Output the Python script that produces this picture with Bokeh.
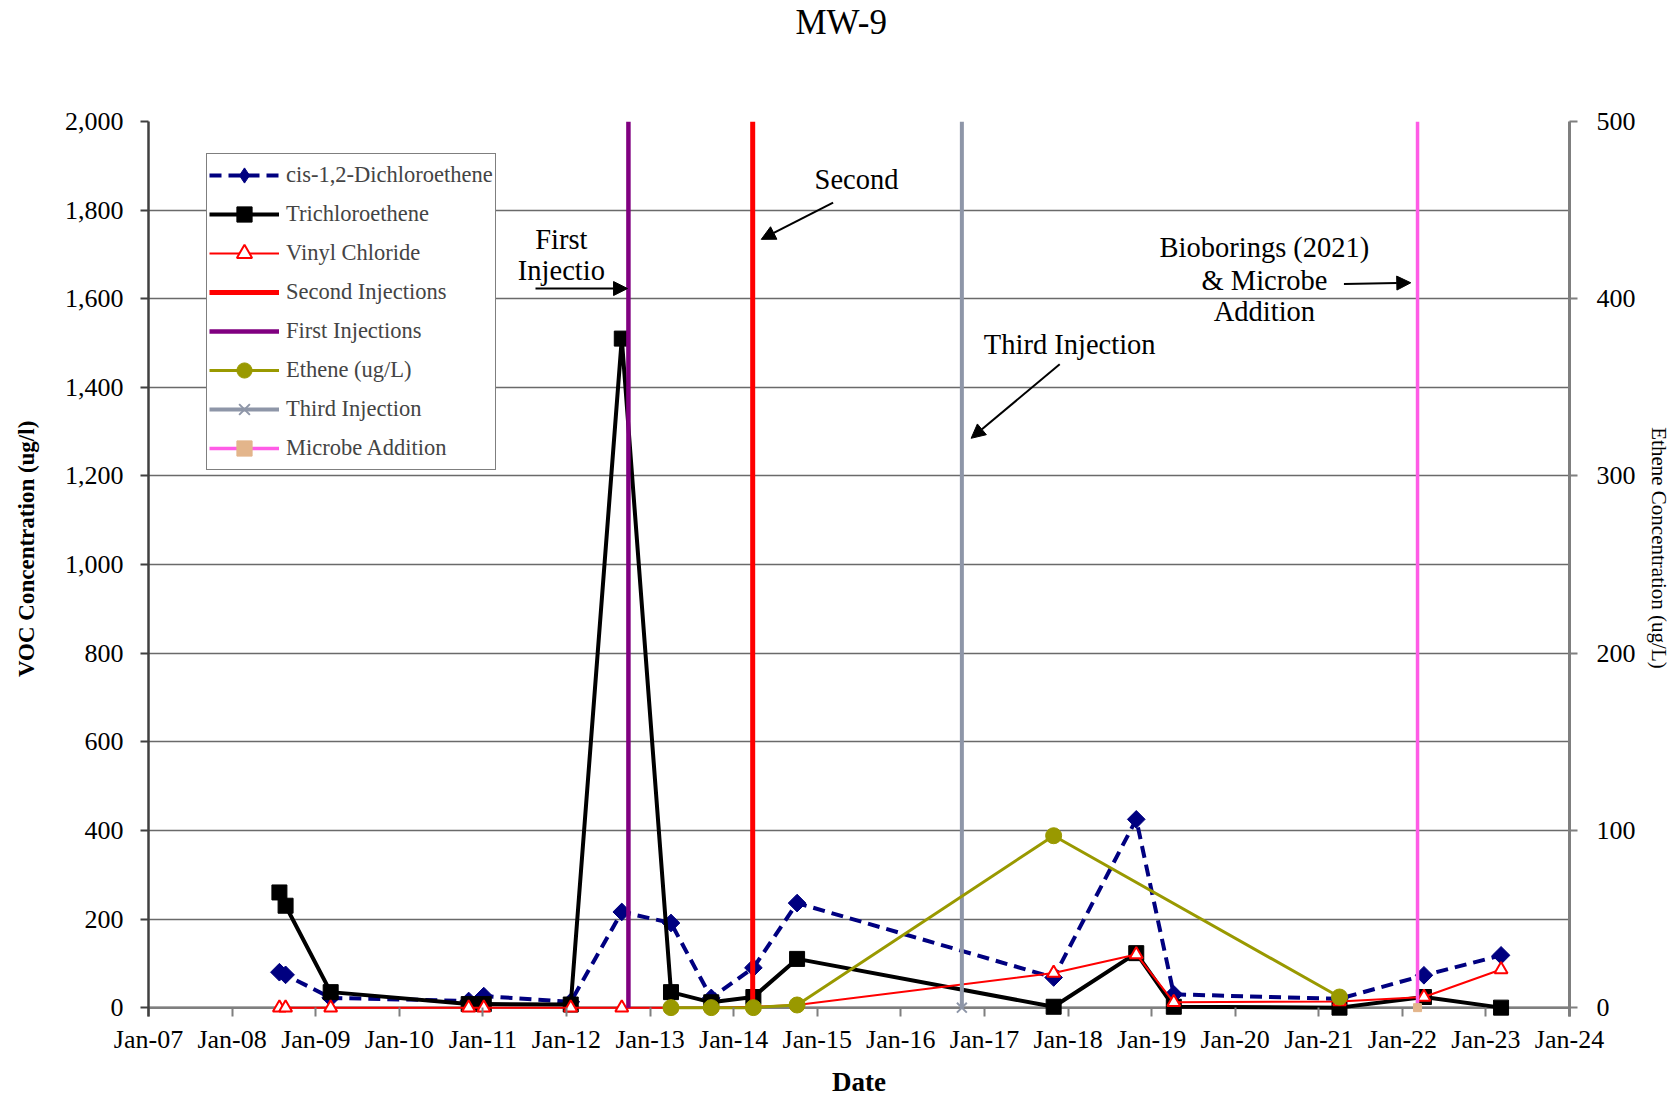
import math
import pandas as pd
from bokeh.plotting import figure
from bokeh.models import (ColumnDataSource, Range1d, LinearAxis, FixedTicker, NumeralTickFormatter,
                          DatetimeTickFormatter, Legend, LegendItem, Label, Arrow, NormalHead, Title, Span)
from bokeh.embed import file_html
from bokeh.resources import INLINE

# ---------------- data ----------------
sample_dates = ["2008-07-26", "2008-08-22", "2009-03-07", "2010-10-31", "2011-01-05", "2012-01-20",
                "2012-08-30", "2013-04-02", "2013-09-25", "2014-03-28", "2014-10-05", "2017-10-30",
                "2018-10-26", "2019-04-08", "2021-04-01", "2022-04-05", "2023-03-08"]
cis_dce = [80, 74, 22, 15, 26, 13, 216, 191, 22, 90, 236, 68, 425, 30, 20, 73, 118]
tce = [260, 230, 35, 8, 8, 7, 1510, 35, 12, 24, 110, 2, 123, 2, 0, 24, 0]
vinyl_chloride = [0, 0, 0, 0, 0, 0, 0, 0, 0, 2, 6, 78, 120, 12, 14, 24, 86]

ethene_dates = ["2013-04-02", "2013-09-25", "2014-03-28", "2014-10-05", "2017-10-30", "2021-04-01"]
ethene = [0, 0, 0, 1.5, 97, 6]

first_injection_date = "2012-09-28"
second_injection_date = "2014-03-25"
third_injection_date = "2016-09-24"
microbe_addition_date = "2022-03-08"
event_span = [0, 2000]

year_ticks = list(range(2007, 2025))
voc_ticks = list(range(0, 2001, 200))
ethene_ticks = list(range(0, 501, 100))

FONT = "Liberation Serif"
NBSP = "\u00a0"


def ms(s):
    return pd.Timestamp(s).value / 1e6


def dy(year_float):
    # decimal year -> epoch ms (for annotation placement)
    y = int(year_float)
    start = pd.Timestamp(f"{y}-01-01")
    end = pd.Timestamp(f"{y + 1}-01-01")
    return (start + (end - start) * (year_float - y)).value / 1e6


x_samples = pd.to_datetime(sample_dates)
x_eth = pd.to_datetime(ethene_dates)

src = ColumnDataSource(dict(x=x_samples, dce=cis_dce, tce=tce, vc=vinyl_chloride))
src_eth = ColumnDataSource(dict(x=x_eth, eth=ethene))

p = figure(width=1674, height=1100, x_axis_type="datetime", output_backend="svg",
           toolbar_location=None,
           x_range=Range1d(pd.Timestamp("2007-01-01").to_pydatetime(),
                           pd.Timestamp("2024-01-01").to_pydatetime()),
           y_range=Range1d(-20, 2000),
           min_border_left=148, min_border_right=105, min_border_top=121, min_border_bottom=84,
           title=None)
p.extra_y_ranges = {"eth": Range1d(-5, 500)}
p.outline_line_color = None
p.background_fill_color = "white"

# title (spacer first so the real title sits at the top edge)
p.add_layout(Title(text=" ", text_font_size="62px", text_font=FONT), "above")
p.add_layout(Title(text="MW-9", align="left", offset=647, standoff=0, text_font=FONT,
                   text_font_size="35px", text_font_style="normal", text_color="black"), "above")

# axes
ax_col = "#7f7f7f"
p.xaxis.ticker = FixedTicker(ticks=[ms(f"{y}-01-01") for y in year_ticks])
p.xaxis.formatter = DatetimeTickFormatter(years="%b-%y", months="%b-%y", days="%b-%y",
                                          hours="%b-%y", minutes="%b-%y")
p.xaxis.axis_label = "Date"
p.xaxis.axis_label_text_font_style = "bold"
p.xaxis.axis_label_text_font_size = "27px"
p.xaxis.axis_label_standoff = 10
p.xaxis.major_label_standoff = 8

p.yaxis.ticker = FixedTicker(ticks=voc_ticks)
p.yaxis.formatter = NumeralTickFormatter(format="0,0")
p.yaxis.axis_label = NBSP * 7 + "VOC Concentration (ug/l)"
p.yaxis.axis_label_text_font_style = "bold"
p.yaxis.axis_label_text_font_size = "23px"
p.yaxis.axis_label_standoff = 23
p.yaxis.major_label_standoff = 17

right = LinearAxis(y_range_name="eth", ticker=FixedTicker(ticks=ethene_ticks),
                   axis_label="Ethene Concentration (ug/L)" + NBSP * 8)
right.axis_label_text_font_style = "normal"
right.axis_label_text_font_size = "21px"
right.axis_label_standoff = 8
right.major_label_standoff = 19
p.add_layout(right, "right")

for ax in [p.xaxis[0], p.yaxis[0], right]:
    ax.axis_line_color = ax_col
    ax.axis_line_width = 2.5
    ax.major_tick_line_color = ax_col
    ax.major_tick_line_width = 2
    ax.major_tick_out = 8
    ax.major_tick_in = 0
    ax.minor_tick_line_color = None
    ax.major_label_text_font = FONT
    ax.major_label_text_font_size = "26px"
    ax.major_label_text_color = "black"
    ax.axis_label_text_font = FONT
    ax.axis_label_text_color = "black"
p.yaxis[0].axis_line_color = "#404040"
p.yaxis[0].major_tick_line_color = "#404040"
right.axis_line_width = 3
# the date axis hangs its ticks from the zero line
p.xaxis.axis_line_color = None
p.xaxis.major_tick_out = 0
p.xaxis.major_tick_in = 9

p.xgrid.visible = False
p.ygrid.grid_line_color = "#6a6a6a"
p.ygrid.grid_line_width = 1.3
p.add_layout(Span(location=0, dimension="width", line_color=ax_col, line_width=2.5, level="underlay"))

# ---------------- series ----------------
dce_line = p.line("x", "dce", source=src, line_color="#000080", line_width=4, line_dash="12 7")
dce_key = p.scatter("x", "dce", source=src, marker="diamond", size=14,
                    fill_color="#000080", line_color="#000080")
dce_pts = p.scatter("x", "dce", source=src, marker="square", angle=math.pi / 4, size=12.5,
                    fill_color="#000080", line_color="#000080")

tce_line = p.line("x", "tce", source=src, line_color="black", line_width=4)
tce_pts = p.scatter("x", "tce", source=src, marker="square", size=15,
                    fill_color="black", line_color="black")

vc_line = p.line("x", "vc", source=src, line_color="#ff0000", line_width=2)
vc_pts = p.scatter("x", "vc", source=src, marker="triangle", size=13, fill_color="white",
                   line_color="#ff0000", line_width=2)

second = p.line([pd.Timestamp(second_injection_date)] * 2, event_span, line_color="#ff0000", line_width=5)
first = p.line([pd.Timestamp(first_injection_date)] * 2, event_span, line_color="#800080", line_width=4.5)
third = p.line([pd.Timestamp(third_injection_date)] * 2, event_span, line_color="#8e96a8", line_width=4)
third_pt = p.scatter([pd.Timestamp(third_injection_date)], [event_span[0]], marker="x", size=14,
                     line_color="#8e96a8", line_width=2)
microbe = p.line([pd.Timestamp(microbe_addition_date)] * 2, event_span, line_color="#ff5ce6", line_width=3.5)
microbe_pt = p.scatter([pd.Timestamp(microbe_addition_date)], [event_span[0]], marker="square", size=8,
                       fill_color="#e3b58b", line_color="#e3b58b")

eth_line = p.line("x", "eth", source=src_eth, y_range_name="eth", line_color="#999900", line_width=3)
eth_pts = p.scatter("x", "eth", source=src_eth, y_range_name="eth", marker="circle", size=16,
                    fill_color="#999900", line_color="#999900")

legend = Legend(items=[
    LegendItem(label="cis-1,2-Dichloroethene", renderers=[dce_line, dce_key]),
    LegendItem(label="Trichloroethene", renderers=[tce_line, tce_pts]),
    LegendItem(label="Vinyl Chloride", renderers=[vc_line, vc_pts]),
    LegendItem(label="Second Injections", renderers=[second]),
    LegendItem(label="First Injections", renderers=[first]),
    LegendItem(label="Ethene (ug/L)", renderers=[eth_line, eth_pts]),
    LegendItem(label="Third Injection", renderers=[third, third_pt]),
    LegendItem(label="Microbe Addition", renderers=[microbe, microbe_pt]),
], location=(58, 546), glyph_width=70, glyph_height=38, spacing=1, padding=2, margin=0,
    label_standoff=7, label_height=20, label_text_font=FONT, label_text_font_size="22.5px",
    border_line_color="black", border_line_width=1, background_fill_color="white",
    background_fill_alpha=1.0)
p.add_layout(legend)

# ---------------- annotations ----------------
def label(xv, yv, text):
    p.add_layout(Label(x=xv, y=yv, text=text, text_font=FONT, text_font_size="28.5px",
                       text_align="center", text_baseline="middle", text_color="black"))


def arrow(x0, y0, x1, y1):
    p.add_layout(Arrow(end=NormalHead(size=14, fill_color="black", line_color="black"),
                       x_start=x0, y_start=y0, x_end=x1, y_end=y1,
                       line_color="black", line_width=2))


label(dy(2011.94), 1733, "First")
label(dy(2011.94), 1663, "Injectio")
arrow(dy(2011.63), 1623, dy(2012.73), 1623)

label(dy(2015.47), 1870, "Second")
arrow(dy(2015.19), 1817, dy(2014.33), 1734)

label(dy(2018.02), 1497, "Third Injection")
arrow(dy(2017.90), 1452, dy(2016.84), 1285)

label(dy(2020.35), 1715, "Bioborings (2021)")
label(dy(2020.35), 1642, "& Microbe")
label(dy(2020.35), 1572, "Addition")
arrow(dy(2021.30), 1633, dy(2022.10), 1636)

open("out.html", "w").write(file_html(p, INLINE))
